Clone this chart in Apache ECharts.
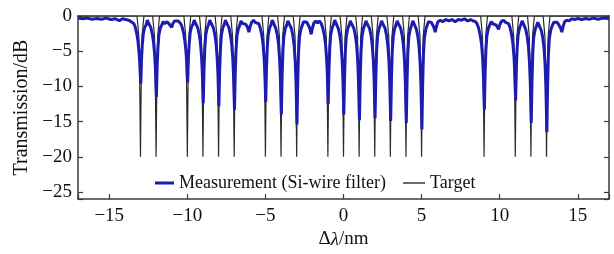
<!DOCTYPE html>
<html><head><meta charset="utf-8">
<script src="https://cdn.jsdelivr.net/npm/echarts@6/dist/echarts.min.js"></script>
<style>html,body{margin:0;padding:0;background:#fff}#c{width:614px;height:254px}</style>
</head><body><div id="c"></div>
<script>
// Target notch centres (nm) and depth (dB)
const targetCenters = [-13,-12,-10,-9,-8,-7,-5,-4,-3,-1,0,1,2,3,4,5,9,11,12,13];
// Target notch profile: offsets (nm) and levels (dB)
const targetProfileOffsets = [-0.22,-0.1,-0.04,0,0.04,0.1,0.22];
const targetProfileLevels  = [0,-3,-11,-20,-11,-3,0];
const xRange = [-17, 17];

// Measured transmission (Si-wire filter): [Δλ nm, dB]
const measured = [
[-17,-0.3],[-16.7,-0.4],[-16.4,-0.3],[-16.1,-0.45],[-15.8,-0.35],[-15.5,-0.45],[-15.2,-0.3],[-14.9,-0.5],[-14.6,-0.4],[-14.35,-0.65],[-14.15,-0.4],[-13.95,-0.5],[-13.75,-0.6],[-13.6,-0.8],[-13.5,-0.9],
[-13.42,-1.1],[-13.33,-1.6],[-13.24,-2.5],[-13.16,-3.6],[-13.09,-5.2],[-13.04,-6.8],[-12.98,-9.6],[-12.93,-6.0],[-12.88,-4.0],[-12.82,-2.5],[-12.73,-1.6],[-12.64,-1.3],[-12.56,-0.6],[-12.5,-0.9],
[-12.42,-1.1],[-12.33,-1.7],[-12.24,-2.6],[-12.16,-3.8],[-12.09,-5.6],[-12.04,-7.5],[-11.98,-11.5],[-11.93,-7.0],[-11.88,-4.5],[-11.82,-2.7],[-11.73,-1.7],[-11.64,-1.3],[-11.55,-0.8],[-11.45,-1.1],
[-11.3,-0.8],[-11.18,-1.1],[-11.08,-1.3],[-11.0,-1.6],[-10.93,-1.1],[-10.82,-0.7],[-10.7,-0.9],[-10.58,-0.7],[-10.5,-0.9],
[-10.42,-1.1],[-10.33,-1.6],[-10.24,-2.4],[-10.16,-3.5],[-10.09,-5.0],[-10.04,-6.5],[-9.98,-9.45],[-9.93,-6.0],[-9.88,-4.0],[-9.82,-2.4],[-9.73,-1.5],[-9.64,-1.2],[-9.56,-0.6],[-9.5,-0.9],
[-9.42,-1.1],[-9.33,-1.7],[-9.24,-2.6],[-9.16,-3.8],[-9.09,-5.8],[-9.04,-8.0],[-8.98,-12.4],[-8.93,-7.5],[-8.88,-4.6],[-8.82,-2.7],[-8.73,-1.7],[-8.64,-1.2],[-8.56,-0.6],[-8.5,-0.9],
[-8.42,-1.1],[-8.33,-1.7],[-8.24,-2.6],[-8.16,-3.9],[-8.09,-5.9],[-8.04,-8.2],[-7.98,-12.8],[-7.93,-7.7],[-7.88,-4.7],[-7.82,-2.7],[-7.73,-1.7],[-7.64,-1.2],[-7.56,-0.6],[-7.5,-0.9],
[-7.42,-1.1],[-7.33,-1.7],[-7.24,-2.7],[-7.16,-4.0],[-7.09,-6.0],[-7.04,-8.5],[-6.98,-13.3],[-6.93,-8.0],[-6.88,-4.8],[-6.82,-2.8],[-6.73,-1.8],[-6.64,-1.3],[-6.56,-0.7],[-6.5,-1.0],
[-6.38,-0.8],[-6.25,-1.2],[-6.14,-1.6],[-6.06,-2.3],[-5.98,-1.5],[-5.88,-0.9],[-5.76,-0.6],[-5.66,-0.9],[-5.55,-0.7],
[-5.42,-1.1],[-5.33,-1.7],[-5.24,-2.6],[-5.16,-3.8],[-5.09,-5.7],[-5.04,-7.8],[-4.98,-12.2],[-4.93,-7.4],[-4.88,-4.5],[-4.82,-2.7],[-4.73,-1.7],[-4.64,-1.2],[-4.56,-0.6],[-4.5,-0.9],
[-4.42,-1.1],[-4.33,-1.8],[-4.24,-2.7],[-4.16,-4.0],[-4.09,-6.2],[-4.04,-8.8],[-3.98,-14.0],[-3.93,-8.5],[-3.88,-5.0],[-3.82,-2.9],[-3.73,-1.8],[-3.64,-1.3],[-3.56,-0.7],[-3.5,-1.0],
[-3.42,-1.1],[-3.33,-1.8],[-3.24,-2.8],[-3.16,-4.2],[-3.09,-6.5],[-3.04,-9.5],[-2.98,-15.4],[-2.93,-9.2],[-2.88,-5.2],[-2.82,-3.0],[-2.73,-1.9],[-2.64,-1.3],[-2.55,-0.8],[-2.45,-1.0],
[-2.35,-0.9],[-2.25,-1.3],[-2.15,-1.8],[-2.07,-2.6],[-1.99,-1.7],[-1.9,-1.0],[-1.78,-0.7],[-1.66,-1.0],[-1.55,-0.7],
[-1.42,-1.1],[-1.33,-1.7],[-1.24,-2.6],[-1.16,-3.8],[-1.09,-5.8],[-1.04,-8.0],[-0.98,-12.5],[-0.93,-7.6],[-0.88,-4.6],[-0.82,-2.7],[-0.73,-1.7],[-0.64,-1.2],[-0.56,-0.6],[-0.5,-0.9],
[-0.42,-1.1],[-0.33,-1.8],[-0.24,-2.7],[-0.16,-4.0],[-0.09,-6.2],[-0.04,-8.8],[0.02,-14.0],[0.07,-8.5],[0.12,-5.0],[0.18,-2.9],[0.27,-1.8],[0.36,-1.3],[0.44,-0.7],[0.5,-1.0],
[0.58,-1.1],[0.67,-1.8],[0.76,-2.8],[0.84,-4.1],[0.91,-6.4],[0.96,-9.2],[1.02,-14.8],[1.07,-9.0],[1.12,-5.1],[1.18,-3.0],[1.27,-1.8],[1.36,-1.3],[1.44,-0.7],[1.5,-1.0],
[1.58,-1.1],[1.67,-1.8],[1.76,-2.7],[1.84,-4.1],[1.91,-6.3],[1.96,-9.0],[2.02,-14.5],[2.07,-8.8],[2.12,-5.0],[2.18,-2.9],[2.27,-1.8],[2.36,-1.3],[2.44,-0.7],[2.5,-1.0],
[2.58,-1.1],[2.67,-1.8],[2.76,-2.8],[2.84,-4.2],[2.91,-6.4],[2.96,-9.2],[3.02,-14.9],[3.07,-9.0],[3.12,-5.1],[3.18,-3.0],[3.27,-1.8],[3.36,-1.3],[3.44,-0.7],[3.5,-1.0],
[3.58,-1.1],[3.67,-1.8],[3.76,-2.8],[3.84,-4.2],[3.91,-6.5],[3.96,-9.4],[4.02,-15.2],[4.07,-9.2],[4.12,-5.2],[4.18,-3.0],[4.27,-1.9],[4.36,-1.3],[4.44,-0.7],[4.5,-1.0],
[4.58,-1.2],[4.67,-1.9],[4.76,-2.9],[4.84,-4.4],[4.91,-6.8],[4.96,-10.0],[5.02,-16.1],[5.07,-9.6],[5.12,-5.4],[5.18,-3.1],[5.27,-1.9],[5.36,-1.3],[5.44,-0.8],[5.52,-1.0],
[5.62,-0.9],[5.72,-1.3],[5.8,-1.7],[5.87,-2.3],[5.95,-1.5],[6.05,-0.8],[6.2,-0.6],[6.35,-0.8],[6.55,-0.5],[6.75,-0.7],[6.95,-0.5],[7.15,-0.8],[7.35,-0.5],[7.55,-0.6],[7.75,-0.4],[7.95,-0.7],[8.15,-0.5],[8.3,-0.7],[8.45,-0.8],
[8.55,-1.1],[8.65,-1.7],[8.75,-2.7],[8.84,-4.0],[8.91,-6.0],[8.96,-8.5],[9.02,-13.3],[9.07,-8.0],[9.12,-4.8],[9.18,-2.8],[9.27,-1.8],[9.36,-1.3],[9.46,-0.8],[9.56,-1.1],
[9.68,-0.9],[9.78,-1.3],[9.86,-1.6],[9.93,-1.9],[10.0,-1.3],[10.1,-0.8],[10.25,-0.6],[10.38,-0.9],[10.5,-0.7],
[10.58,-1.1],[10.67,-1.7],[10.76,-2.6],[10.84,-3.8],[10.91,-5.6],[10.96,-7.7],[11.02,-12.0],[11.07,-7.3],[11.12,-4.5],[11.18,-2.7],[11.27,-1.7],[11.36,-1.2],[11.44,-0.7],[11.5,-1.0],
[11.58,-1.2],[11.67,-1.9],[11.76,-2.9],[11.84,-4.3],[11.91,-6.6],[11.96,-9.5],[12.02,-15.2],[12.07,-9.2],[12.12,-5.2],[12.18,-3.0],[12.27,-1.9],[12.36,-1.4],[12.44,-0.9],[12.5,-1.2],
[12.58,-1.4],[12.67,-2.1],[12.76,-3.1],[12.84,-4.6],[12.91,-7.0],[12.96,-10.2],[13.02,-16.5],[13.07,-9.8],[13.12,-5.5],[13.18,-3.2],[13.27,-2.0],[13.36,-1.4],[13.46,-0.9],[13.56,-1.1],
[13.68,-0.9],[13.8,-1.3],[13.9,-1.7],[13.98,-2.3],[14.06,-1.5],[14.16,-0.8],[14.3,-0.6],[14.45,-0.7],[14.6,-0.4],[14.8,-0.5],[15.0,-0.35],[15.25,-0.5],[15.5,-0.35],[15.75,-0.45],[16.0,-0.3],[16.3,-0.45],[16.6,-0.3],[17,-0.35]
];

const seriesNames = ['Measurement (Si-wire filter)', 'Target'];

// build target table
const target = [[xRange[0], 0]];
targetCenters.forEach(c => {
  targetProfileOffsets.forEach((o, i) => target.push([+(c + o).toFixed(3), targetProfileLevels[i]]));
});
target.push([xRange[1], 0]);

const FONT = '"Liberation Serif", "Times New Roman", serif';
const AX = '#3a3a3a';
const fmt = v => (Math.abs(v % 5) < 1e-9 ? String(v).replace('-', '\u2212') : '');

const chart = echarts.init(document.getElementById('c'), null, {renderer: 'canvas'});
chart.setOption({
  backgroundColor: '#fff',
  animation: false,
  grid: {left: 78, right: 5, top: 16, bottom: 48, containLabel: false},
  legend: [
    {data: [seriesNames[0]], left: 155, top: 174, padding: 0, itemWidth: 19, itemHeight: 3, icon: 'rect', itemGap: 0,
     textStyle: {fontFamily: FONT, fontSize: 18, color: '#111'}},
    {data: [seriesNames[1]], left: 403, top: 174, padding: 0, itemWidth: 22, itemHeight: 1.4, icon: 'rect', itemGap: 0,
     textStyle: {fontFamily: FONT, fontSize: 18, color: '#111'}}
  ],
  xAxis: [
    {type: 'value', min: xRange[0], max: xRange[1], splitNumber: 7, position: 'bottom',
     name: '\u0394{i|\u03bb}/nm', nameLocation: 'middle', nameGap: 29,
     nameTextStyle: {fontFamily: FONT, fontSize: 19, color: '#111', rich: {i: {fontFamily: FONT, fontSize: 19, fontStyle: 'italic', color: '#111'}}},
     axisLine: {onZero: false, lineStyle: {color: AX, width: 1.5}},
     axisTick: {inside: true, length: 5, lineStyle: {color: AX, width: 1.2}},
     axisLabel: {formatter: fmt, fontFamily: FONT, fontSize: 19, color: '#111', margin: 7},
     splitLine: {show: false}},
    {type: 'value', min: xRange[0], max: xRange[1], splitNumber: 7, position: 'top',
     axisLine: {onZero: false, lineStyle: {color: AX, width: 1.5}},
     axisTick: {show: false}, axisLabel: {show: false}, splitLine: {show: false}}
  ],
  yAxis: [
    {type: 'value', min: -26, max: 0, splitNumber: 5, position: 'left',
     name: 'Transmission/dB', nameLocation: 'middle', nameGap: 45,
     nameTextStyle: {fontFamily: FONT, fontSize: 20, color: '#111'},
     axisLine: {show: true, onZero: false, lineStyle: {color: AX, width: 1.5}},
     axisTick: {show: true, inside: true, length: 5, lineStyle: {color: AX, width: 1.2}},
     axisLabel: {formatter: fmt, fontFamily: FONT, fontSize: 19, color: '#111', margin: 6},
     splitLine: {show: false}},
    {type: 'value', min: -26, max: 0, splitNumber: 5, position: 'right',
     axisLine: {show: true, onZero: false, lineStyle: {color: AX, width: 1.5}},
     axisTick: {show: true, inside: true, length: 5, lineStyle: {color: AX, width: 1.2}},
     axisLabel: {show: false}, splitLine: {show: false}}
  ],
  series: [
    {name: seriesNames[1], type: 'line', data: target, symbol: 'none', z: 3,
     lineStyle: {color: '#2b2b2b', width: 1.2}, itemStyle: {color: '#2b2b2b'}},
    {name: seriesNames[0], type: 'line', data: measured, symbol: 'none', z: 4,
     lineStyle: {color: '#1c1cb0', width: 3}, itemStyle: {color: '#1c1cb0'}}
  ]
});
</script></body></html>
